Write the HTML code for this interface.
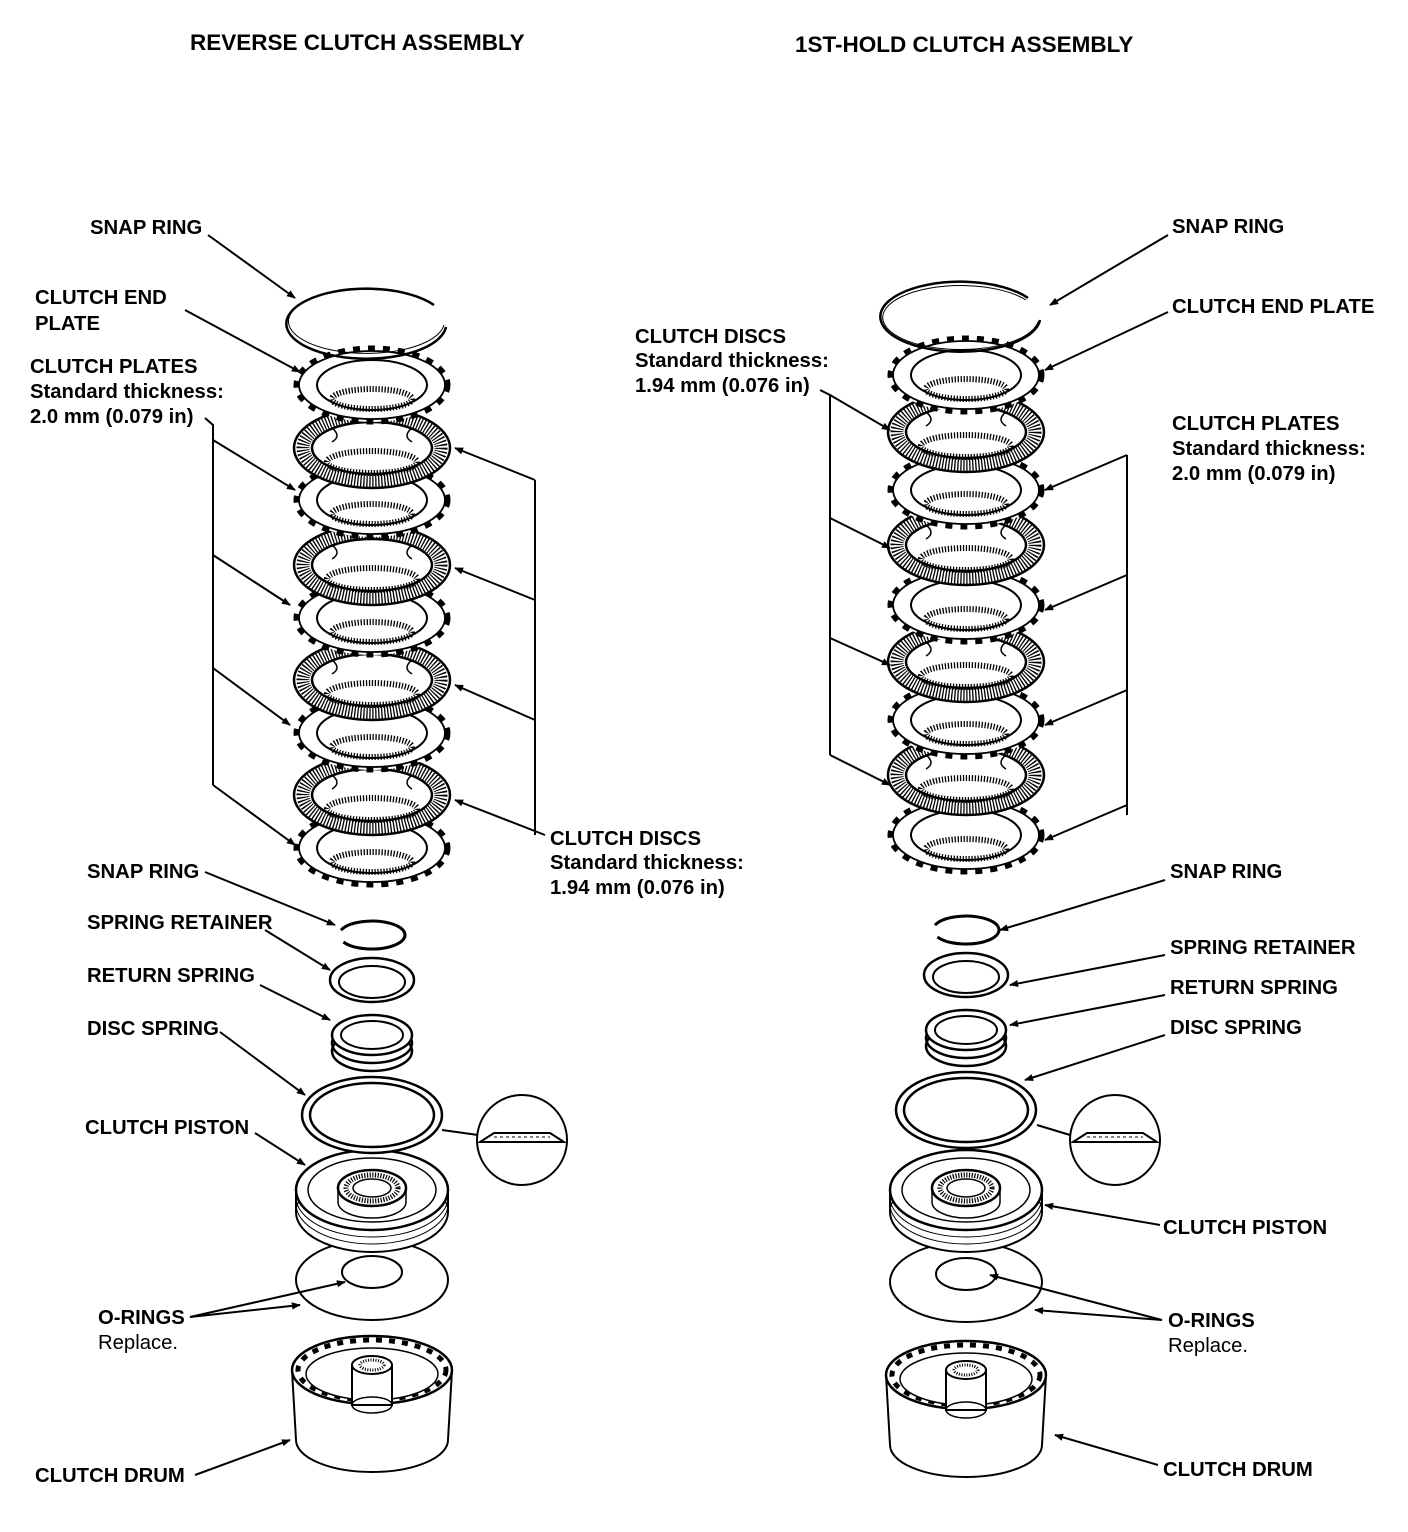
<!DOCTYPE html>
<html><head><meta charset="utf-8"><style>
html,body{margin:0;padding:0;background:#fff;}
svg{display:block;}
text{font-family:"Liberation Sans",Arial,sans-serif;font-weight:bold;font-size:20.3px;fill:#000;}
.n{font-weight:normal;}
.t{font-size:22.5px;}
</style></head><body>
<svg width="1408" height="1532" viewBox="0 0 1408 1532" xmlns="http://www.w3.org/2000/svg">
<defs>
<marker id="ar" viewBox="0 0 10 10" refX="9" refY="5" markerWidth="9" markerHeight="9" orient="auto-start-reverse" markerUnits="userSpaceOnUse"><path d="M0,1 L10,5 L0,9 z" fill="#000"/></marker>
<g id="disc">
<ellipse rx="78" ry="40" fill="#fff" stroke="#000" stroke-width="2.5"/>
<ellipse rx="69" ry="33" fill="none" stroke="#000" stroke-width="13" stroke-dasharray="1.3 1.7"/>
<ellipse rx="60" ry="26" fill="#fff" stroke="#000" stroke-width="2.5"/>
<path d="M-40,-20 q10,8 0,14 M40,-20 q-10,8 0,14" fill="none" stroke="#000" stroke-width="1.5"/>
<ellipse cy="14" rx="45" ry="11" fill="none" stroke="#000" stroke-width="6" stroke-dasharray="1.3 1.7"/>
</g>
<g id="plate">
<ellipse rx="76" ry="37" fill="#fff" stroke="#000" stroke-width="5" stroke-dasharray="7 8"/>
<ellipse rx="73" ry="34" fill="#fff" stroke="#000" stroke-width="1.8"/>
<ellipse rx="55" ry="25" fill="#fff" stroke="#000" stroke-width="2"/>
<ellipse cy="14" rx="40" ry="10" fill="none" stroke="#000" stroke-width="6" stroke-dasharray="1.3 1.7"/>
</g>
<g id="drum">
<path d="M-80,0 L-76,70 A76,32 0 0 0 76,70 L80,0" fill="#fff" stroke="#000" stroke-width="2"/>
<ellipse rx="80" ry="34" fill="#fff" stroke="#000" stroke-width="2.5"/>
<ellipse rx="74" ry="30" fill="none" stroke="#000" stroke-width="5" stroke-dasharray="6 7"/>
<ellipse cy="4" rx="66" ry="26" fill="#fff" stroke="#000" stroke-width="1.5"/>
<rect x="-20" y="-5" width="40" height="40" fill="#fff" stroke="#000" stroke-width="2"/>
<ellipse cy="-5" rx="20" ry="9" fill="#fff" stroke="#000" stroke-width="2"/>
<ellipse cy="-5" rx="12" ry="5" fill="#fff" stroke="#000" stroke-width="3" stroke-dasharray="1 1.5"/>
<ellipse cy="35" rx="20" ry="8" fill="none" stroke="#000" stroke-width="1.5"/>
</g>
<g id="piston">
<path d="M-76,0 L-76,22 A76,40 0 0 0 76,22 L76,0" fill="#fff" stroke="#000" stroke-width="2"/>
<ellipse cy="22" rx="76" ry="40" fill="none" stroke="#000" stroke-width="1"/>
<ellipse cy="14" rx="76" ry="40" fill="none" stroke="#000" stroke-width="1"/>
<ellipse cy="7" rx="76" ry="40" fill="none" stroke="#000" stroke-width="1"/>
<ellipse rx="76" ry="40" fill="#fff" stroke="#000" stroke-width="2.5"/>
<ellipse rx="64" ry="32" fill="none" stroke="#000" stroke-width="1.5"/>
<ellipse cy="-2" rx="34" ry="18" fill="#fff" stroke="#000" stroke-width="2.5"/>
<ellipse cy="-2" rx="26" ry="13" fill="none" stroke="#000" stroke-width="5" stroke-dasharray="1.2 1.5"/>
<ellipse cy="-2" rx="19" ry="9" fill="#fff" stroke="#000" stroke-width="1.5"/>
<path d="M-34,-2 L-34,12 A34,16 0 0 0 34,12 L34,-2" fill="none" stroke="#000" stroke-width="1.5"/>
</g>
<g id="lower">
<path d="M-28.6,-38 A33,14 0 1 0 -31,-49.8" fill="none" stroke="#000" stroke-width="3"/>
<ellipse cy="0" rx="42" ry="22" fill="#fff" stroke="#000" stroke-width="2.5"/>
<ellipse cy="2" rx="33" ry="16" fill="#fff" stroke="#000" stroke-width="2"/>
<g transform="translate(0,55)">
<ellipse cy="16" rx="40" ry="20" fill="none" stroke="#000" stroke-width="2.5"/>
<ellipse cy="8" rx="40" ry="20" fill="none" stroke="#000" stroke-width="2.5"/>
<ellipse cy="0" rx="40" ry="20" fill="#fff" stroke="#000" stroke-width="2.5"/>
<ellipse cy="0" rx="31" ry="14" fill="#fff" stroke="#000" stroke-width="2"/>
</g>
<ellipse cy="135" rx="70" ry="38" fill="#fff" stroke="#000" stroke-width="2.5"/>
<ellipse cy="135" rx="62" ry="32" fill="#fff" stroke="#000" stroke-width="2.5"/>
</g>
<g id="oring">
<ellipse rx="76" ry="40" fill="#fff" stroke="#000" stroke-width="2"/>
<ellipse cy="-8" rx="30" ry="16" fill="#fff" stroke="#000" stroke-width="2"/>
</g>
<g id="detail">
<circle r="45" fill="#fff" stroke="#000" stroke-width="2"/>
<path d="M-42,2 L-28,-7 L28,-7 L42,2 Z" fill="#fff" stroke="#000" stroke-width="2"/>
<line x1="-28" y1="-3" x2="28" y2="-3" stroke="#000" stroke-width="1" stroke-dasharray="3 3"/>
</g>
</defs>

<text x="190" y="50" class="t">REVERSE CLUTCH ASSEMBLY</text>
<text x="795" y="52" class="t">1ST-HOLD CLUTCH ASSEMBLY</text>

<g transform="translate(372,0)">
<use href="#drum" y="1370"/>
<use href="#oring" y="1280"/>
<use href="#piston" y="1190"/>
<use href="#lower" y="980"/>
<use href="#plate" y="848"/>
<use href="#disc" y="795"/>
<use href="#plate" y="733"/>
<use href="#disc" y="680"/>
<use href="#plate" y="618"/>
<use href="#disc" y="565"/>
<use href="#plate" y="500"/>
<use href="#disc" y="448"/>
<use href="#plate" y="385"/>
<path d="M74,322 A80,35 0 1 1 62,300" fill="none" stroke="#000" stroke-width="2.5" transform="translate(0,5)"/>
<path d="M72,325 A78,32 0 1 1 60,304" fill="none" stroke="#000" stroke-width="1"/>
</g>
<use href="#detail" x="522" y="1140"/>

<g transform="translate(966,0)">
<use href="#drum" y="1375"/>
<use href="#oring" y="1282"/>
<use href="#piston" y="1190"/>
<use href="#lower" y="975"/>
<use href="#plate" y="835"/>
<use href="#disc" y="775"/>
<use href="#plate" y="720"/>
<use href="#disc" y="662"/>
<use href="#plate" y="605"/>
<use href="#disc" y="545"/>
<use href="#plate" y="490"/>
<use href="#disc" y="432"/>
<use href="#plate" y="375"/>
<path d="M74,300 A80,35 0 1 1 62,278" fill="none" stroke="#000" stroke-width="2.5" transform="translate(0,20)"/>
<path d="M72,322 A78,32 0 1 1 60,300" fill="none" stroke="#000" stroke-width="1"/>
</g>
<use href="#detail" x="1115" y="1140"/>

<g stroke="#000" stroke-width="2" fill="none">
<line x1="208" y1="235" x2="295" y2="298" marker-end="url(#ar)"/>
<line x1="185" y1="310" x2="300" y2="372" marker-end="url(#ar)"/>
<polyline points="205,418 213,425 213,785"/>
<line x1="213" y1="440" x2="295" y2="490" marker-end="url(#ar)"/>
<line x1="213" y1="555" x2="290" y2="605" marker-end="url(#ar)"/>
<line x1="213" y1="668" x2="290" y2="725" marker-end="url(#ar)"/>
<line x1="213" y1="785" x2="295" y2="845" marker-end="url(#ar)"/>
<line x1="535" y1="480" x2="535" y2="835"/>
<line x1="535" y1="480" x2="455" y2="448" marker-end="url(#ar)"/>
<line x1="535" y1="600" x2="455" y2="568" marker-end="url(#ar)"/>
<line x1="535" y1="720" x2="455" y2="685" marker-end="url(#ar)"/>
<line x1="545" y1="835" x2="455" y2="800" marker-end="url(#ar)"/>
<line x1="205" y1="872" x2="335" y2="925" marker-end="url(#ar)"/>
<line x1="265" y1="930" x2="330" y2="970" marker-end="url(#ar)"/>
<line x1="260" y1="985" x2="330" y2="1020" marker-end="url(#ar)"/>
<line x1="220" y1="1032" x2="305" y2="1095" marker-end="url(#ar)"/>
<line x1="255" y1="1133" x2="305" y2="1165" marker-end="url(#ar)"/>
<line x1="442" y1="1130" x2="478" y2="1135"/>
<line x1="190" y1="1317" x2="345" y2="1282" marker-end="url(#ar)"/>
<line x1="190" y1="1317" x2="300" y2="1305" marker-end="url(#ar)"/>
<line x1="195" y1="1475" x2="290" y2="1440" marker-end="url(#ar)"/>
<line x1="1168" y1="235" x2="1050" y2="305" marker-end="url(#ar)"/>
<line x1="1168" y1="312" x2="1045" y2="370" marker-end="url(#ar)"/>
<polyline points="820,390 830,395 830,755"/>
<line x1="830" y1="395" x2="890" y2="430" marker-end="url(#ar)"/>
<line x1="830" y1="518" x2="890" y2="548" marker-end="url(#ar)"/>
<line x1="830" y1="638" x2="890" y2="665" marker-end="url(#ar)"/>
<line x1="830" y1="755" x2="890" y2="785" marker-end="url(#ar)"/>
<line x1="1127" y1="455" x2="1127" y2="815"/>
<line x1="1127" y1="455" x2="1045" y2="490" marker-end="url(#ar)"/>
<line x1="1127" y1="575" x2="1045" y2="610" marker-end="url(#ar)"/>
<line x1="1127" y1="690" x2="1045" y2="725" marker-end="url(#ar)"/>
<line x1="1127" y1="805" x2="1045" y2="840" marker-end="url(#ar)"/>
<line x1="1165" y1="880" x2="1000" y2="930" marker-end="url(#ar)"/>
<line x1="1165" y1="955" x2="1010" y2="985" marker-end="url(#ar)"/>
<line x1="1165" y1="995" x2="1010" y2="1025" marker-end="url(#ar)"/>
<line x1="1165" y1="1035" x2="1025" y2="1080" marker-end="url(#ar)"/>
<line x1="1037" y1="1125" x2="1070" y2="1135"/>
<line x1="1160" y1="1225" x2="1045" y2="1205" marker-end="url(#ar)"/>
<line x1="1162" y1="1320" x2="990" y2="1275" marker-end="url(#ar)"/>
<line x1="1162" y1="1320" x2="1035" y2="1310" marker-end="url(#ar)"/>
<line x1="1158" y1="1465" x2="1055" y2="1435" marker-end="url(#ar)"/>
</g>

<text x="90" y="234">SNAP RING</text>
<text x="35" y="304">CLUTCH END</text>
<text x="35" y="330">PLATE</text>
<text x="30" y="373">CLUTCH PLATES</text>
<text x="30" y="398">Standard thickness:</text>
<text x="30" y="423">2.0 mm (0.079 in)</text>
<text x="550" y="845">CLUTCH DISCS</text>
<text x="550" y="869">Standard thickness:</text>
<text x="550" y="894">1.94 mm (0.076 in)</text>
<text x="87" y="878">SNAP RING</text>
<text x="87" y="929">SPRING RETAINER</text>
<text x="87" y="982">RETURN SPRING</text>
<text x="87" y="1035">DISC SPRING</text>
<text x="85" y="1134">CLUTCH PISTON</text>
<text x="98" y="1324">O-RINGS</text>
<text x="98" y="1349" class="n">Replace.</text>
<text x="35" y="1482">CLUTCH DRUM</text>
<text x="1172" y="233">SNAP RING</text>
<text x="1172" y="313">CLUTCH END PLATE</text>
<text x="635" y="343">CLUTCH DISCS</text>
<text x="635" y="367">Standard thickness:</text>
<text x="635" y="392">1.94 mm (0.076 in)</text>
<text x="1172" y="430">CLUTCH PLATES</text>
<text x="1172" y="455">Standard thickness:</text>
<text x="1172" y="480">2.0 mm (0.079 in)</text>
<text x="1170" y="878">SNAP RING</text>
<text x="1170" y="954">SPRING RETAINER</text>
<text x="1170" y="994">RETURN SPRING</text>
<text x="1170" y="1034">DISC SPRING</text>
<text x="1163" y="1234">CLUTCH PISTON</text>
<text x="1168" y="1327">O-RINGS</text>
<text x="1168" y="1352" class="n">Replace.</text>
<text x="1163" y="1476">CLUTCH DRUM</text>
</svg>
</body></html>
